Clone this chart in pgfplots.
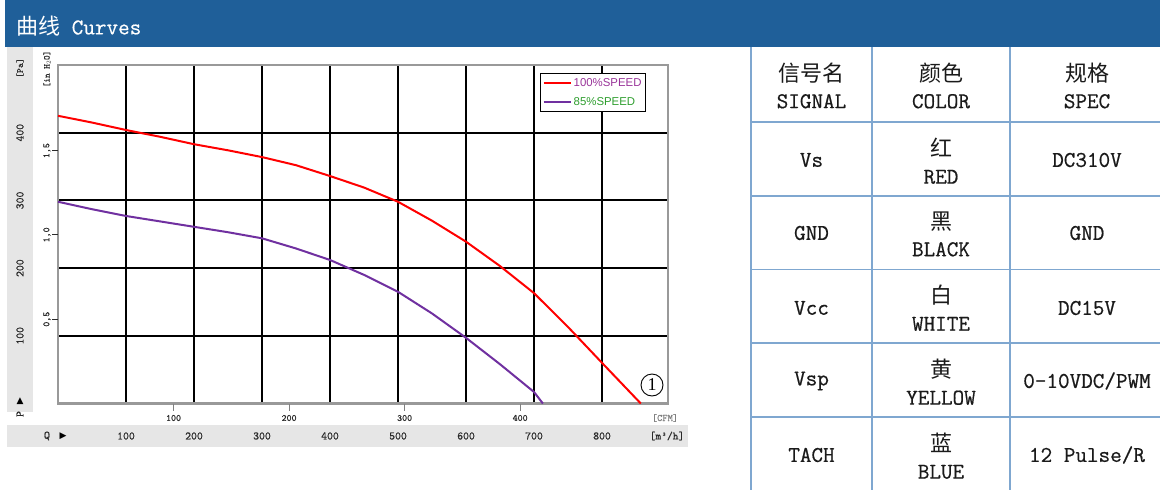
\documentclass[border=0pt]{standalone}
\usepackage{fontspec}
\usepackage{pgfplots}
\pgfplotsset{compat=1.18}
\setmonofont[FakeBold=0.6]{Latin Modern Mono}
\newfontfamily\cjk{Noto Sans CJK SC}
\newfontfamily\arial{Liberation Sans}
\newfontfamily\dejavu{DejaVu Sans}
\newfontfamily\serif{Liberation Serif}
\definecolor{titleblue}{HTML}{1F5F99}
\definecolor{tableline}{HTML}{7FA7D0}
\definecolor{strip}{HTML}{E6E6E6}
\definecolor{curvepurple}{HTML}{7030A0}
\definecolor{legpurple}{HTML}{993399}
\definecolor{leggreen}{HTML}{2E9E2E}
\definecolor{framegray}{HTML}{999999}
\definecolor{lab}{HTML}{2A2A2A}
\definecolor{tabtext}{HTML}{1A1A1A}

\pgfplotstableread{
q p
0 425
50 415
100 404
150 394
200 383
250 374
300 364
350 352
400 336
450 319
500 298
550 270
600 239
650 203
700 163
750 113
800 60
857 0
}\fullspeed
\pgfplotstableread{
q p
0 298
50 287
100 277
150 269
200 261
250 253
300 244
350 229
400 212
450 190
500 165
550 133
600 97
650 58
700 17
713 0
}\lowspeed

\newcommand{\tfont}{\ttfamily\fontsize{22.5}{27}\selectfont}
\newcommand{\cj}[1]{{\cjk\fontsize{22}{27}\selectfont #1}}
\newcommand{\fs}[1]{\ttfamily\fontsize{#1}{#1}\selectfont}

\begin{document}
\begin{tikzpicture}
\begin{scope}[x=1pt,y=-1pt]
\useasboundingbox (0,0) rectangle (1160,490);
\fill[white] (0,0) rectangle (1160,490);
% title bar
\fill[titleblue] (5,0) rectangle (1160,47);
\node[anchor=west,text=white,inner sep=0] at (16,26) {\cj{曲线}\ttfamily\fontsize{22.5}{23}\selectfont\ Curves};
% gray strips
\fill[strip] (7,47) rectangle (33,412);
\fill[strip] (7,425) rectangle (688,447);
% strip texts
\node[rotate=90,text=lab,font=\fs{9.5}] at (20,68) {[Pa]};
\node[rotate=90,text=lab,font=\fs{8.8}] at (47,69) {[in H$_2$O]};
\node[text=black,font=\dejavu\fontsize{9}{9}\selectfont] at (20,401) {▲};
\node[rotate=90,text=lab,font=\fs{11.4}] at (20,414) {P};
\node[text=lab,font=\fs{11.4}] at (47,436) {Q};
\node[text=black,font=\dejavu\fontsize{9}{9}\selectfont] at (63,436) {▶};
\node[text=lab,font=\fs{11}] at (667,436) {[m³/h]};
\node[text=gray,font=\fs{10}] at (665,418) {[CFM]};
% table
\begin{scope}[draw=tableline,line width=1.5pt]
\draw (751,47) -- (751,490);
\draw (872,47) -- (872,490);
\draw (1010,47) -- (1010,490);
\foreach \yy in {122,196,269.5,343,417} {\draw (751,\yy) -- (1160,\yy);}
\end{scope}
\begin{scope}[every node/.style={align=center,text=tabtext,font=\tfont,inner sep=0}]
\node at (811.5,85.5) {\cj{信号名}\\SIGNAL};
\node at (941,85.5) {\cj{颜色}\\COLOR};
\node at (1087,85.5) {\cj{规格}\\SPEC};
\node at (811.5,160) {Vs};
\node at (941,161) {\cj{红}\\RED};
\node at (1087,160) {DC310V};
\node at (811.5,233) {GND};
\node at (941,234) {\cj{黑}\\BLACK};
\node at (1087,233) {GND};
\node at (811.5,308) {Vcc};
\node at (941,308) {\cj{白}\\WHITE};
\node at (1087,308) {DC15V};
\node at (811.5,381) {Vsp};
\node at (941,382) {\cj{黄}\\YELLOW};
\node at (1087,381) {0-10VDC/PWM};
\node at (811.5,455) {TACH};
\node at (941,456) {\cj{蓝}\\BLUE};
\node at (1087,455) {12 Pulse/R};
\end{scope}
% circled number
\node[circle,draw=black,line width=0.9pt,inner sep=0pt,minimum size=22pt,font=\serif\fontsize{18}{18}\selectfont] at (652,385) {1};
\end{scope}

\begin{axis}[
  at={(58pt,-403.5pt)}, anchor=south west,
  scale only axis, width=610pt, height=338.5pt,
  xmin=0, xmax=897, ymin=0, ymax=500,
  xtick={100,200,...,800}, ytick={100,200,300,400},
  xticklabels={}, yticklabels={},
  major tick length=0pt,
  grid=major,
  major grid style={black,line width=2pt},
  axis line style={framegray,line width=2.5pt},
  clip=false,
  legend style={at={(0.79,0.977)},anchor=north west,draw=black,line width=1.6pt,
    font=\arial\fontsize{11.4}{12}\selectfont,inner xsep=2pt,inner ysep=3pt,
    row sep=5pt,cells={anchor=west}},
  legend cell align=left,
  legend image code/.code={\draw[#1] (0pt,0pt) -- (27pt,0pt);},
]
\addplot[red,line width=2pt] table[x=q,y=p] {\fullspeed};
\addlegendentry{\textcolor{legpurple}{100\%SPEED}}
\addplot[curvepurple,line width=2pt] table[x=q,y=p] {\lowspeed};
\addlegendentry{\textcolor{leggreen}{85\%SPEED}}
% Pa labels
\foreach \v in {100,200,300,400} {
  \edef\tmp{\noexpand\node[rotate=90,text=lab,font=\noexpand\fs{11.4}] at ([xshift=-38pt]axis cs:0,\v) {\v};}
  \tmp
}
% in H2O ticks
\foreach \p/\l in {124.5/{0,5},249.1/{1,0},373.6/{1,5}} {
  \edef\tmp{\noexpand\draw[lab,line width=0.8pt] ([xshift=-6pt]axis cs:0,\p) -- (axis cs:0,\p);
  \noexpand\node[rotate=90,text=lab,font=\noexpand\fs{9.5}] at ([xshift=-11pt]axis cs:0,\p) {\l};}
  \tmp
}
% CFM ticks
\foreach \c/\l in {169.9/100,339.8/200,509.7/300,679.6/400} {
  \edef\tmp{\noexpand\draw[gray,line width=1pt] (axis cs:\c,0) -- ([yshift=-7pt]axis cs:\c,0);
  \noexpand\node[text=lab,font=\noexpand\fs{9.5}] at ([yshift=-14.5pt]axis cs:\c,0) {\l};}
  \tmp
}
% m3/h labels
\foreach \v in {100,200,...,800} {
  \edef\tmp{\noexpand\node[text=lab,font=\noexpand\fs{11.4}] at ([yshift=-32.5pt]axis cs:\v,0) {\v};}
  \tmp
}
\end{axis}
\end{tikzpicture}
\end{document}
